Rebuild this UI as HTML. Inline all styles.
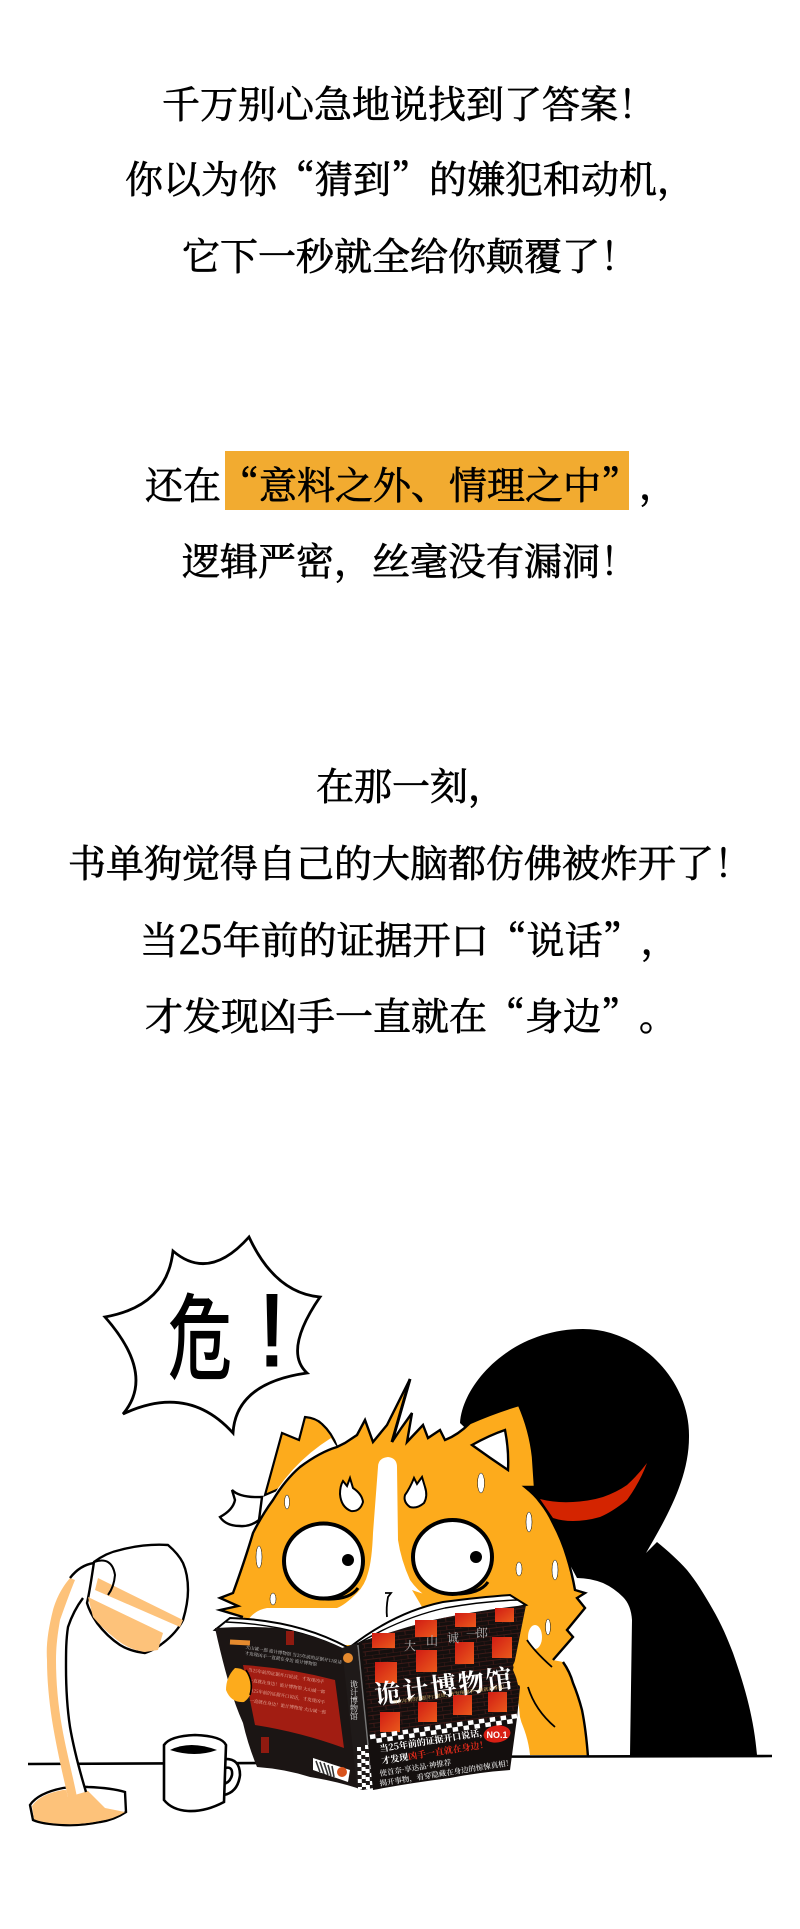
<!DOCTYPE html>
<html lang="zh-CN">
<head>
<meta charset="utf-8">
<title>诡计博物馆</title>
<style>
html,body{margin:0;padding:0;background:#fff;}
#page{position:relative;width:800px;height:1929px;overflow:hidden;background:#fff;font-family:"Noto Serif CJK SC","Liberation Serif",serif;color:#000;}
.l{position:absolute;font-size:38px;line-height:50px;height:50px;font-weight:400;white-space:nowrap;text-spacing-trim:space-all;-webkit-text-stroke:.7px #000;}
.d{font-size:40px;}
#hl{position:absolute;left:225px;top:451px;width:404px;height:59px;background:#f2ab30;}
svg{position:absolute;left:0;top:0;}
</style>
</head>
<body>
<div id="page">
<div id="hl"></div>
<div class="l" style="left:162px;top:77px">千万别心急地说找到了答案！</div>
<div class="l" style="left:125px;top:152px">你以为你“猜到”的嫌犯和动机，</div>
<div class="l" style="left:182px;top:229px">它下一秒就全给你颠覆了！</div>
<div class="l" style="left:145px;top:458px">还在“意料之外、情理之中”，</div>
<div class="l" style="left:182px;top:534px">逻辑严密，丝毫没有漏洞！</div>
<div class="l" style="left:316px;top:759px">在那一刻，</div>
<div class="l" style="left:68px;top:836px">书单狗觉得自己的大脑都仿佛被炸开了！</div>
<div class="l" style="left:140px;top:913px">当<span class="d">25</span>年前的证据开口“说话”，</div>
<div class="l" style="left:145px;top:989px">才发现凶手一直就在“身边”。</div>

<svg width="800" height="1929" viewBox="0 0 800 1929">
  <defs>
    <pattern id="bricks" width="14" height="8" patternUnits="userSpaceOnUse" patternTransform="rotate(-7)">
      <path d="M0 0H14M0 0V4M7 4V8M0 4H14" fill="none" stroke="#4a1d1a" stroke-width=".7"/>
    </pattern>
    <linearGradient id="win" x1="0" y1="0" x2="1" y2="1">
      <stop offset="0" stop-color="#d11c14"/><stop offset="1" stop-color="#ea5a1c"/>
    </linearGradient>
  </defs>
  <!-- speech bubble -->
  <path d="M249 1237 Q275 1293 320 1297 Q283 1351 307 1373 Q236 1383 233 1433 Q188 1383 123 1414 Q156 1375 105 1317 Q167 1306 173 1251 Q209 1282 249 1237 Z" fill="#fff" stroke="#000" stroke-width="2.8"/>
  <text transform="translate(200 1372) scale(.8 1.17)" text-anchor="middle" font-size="80" font-weight="500" font-family="'Noto Sans CJK SC',sans-serif">危</text>
  <text x="272" y="1366" text-anchor="middle" font-size="104" font-family="'Liberation Sans',sans-serif" stroke="#000" stroke-width="1">!</text>

  <!-- black figure -->
  <path d="M460 1423 C462 1385 510 1329 583 1329 C640 1329 690 1380 689 1437 C689 1480 665 1520 646 1553 L657 1542 C668 1551 678 1560 687 1570 C696 1581 704 1594 712 1608 C722 1625 728 1640 733 1653 C746 1690 754 1720 757 1755 L630 1755 L632 1620 Q631 1605 623 1597 Q614 1588 603 1583 Q590 1578 577 1578 L530 1490 Z" fill="#000"/>
  <path d="M647 1463 Q640 1482 627 1500 Q612 1512 600 1517 Q586 1521 573 1521 Q562 1521 553 1518 L540 1499 Q555 1503 573 1502 Q590 1501 603 1497 Q617 1492 627 1485 Q638 1475 647 1463 Z" fill="#d42400"/>

  <!-- cat -->
  <path d="M513 1650 L553 1660 L563 1662 Q570 1672 573 1683 Q578 1695 582 1710 Q586 1730 588 1755 L530 1755 L520 1717 Z" fill="#fdab1c"/>
  <path d="M563 1662 Q570 1672 573 1683 Q578 1695 582 1710 Q586 1730 588 1757" fill="none" stroke="#000" stroke-width="2.4"/>
  <path d="M518 1715 Q528 1735 530 1755 L508 1757 Z" fill="#fff"/>
  <path d="M265 1495 L282 1433 L299 1440 L305 1417 Q316 1418 322 1424 Q332 1433 337 1447 L300 1480 Z" fill="#fdab1c" stroke="#000" stroke-width="2.2"/>
  <path d="M265 1510 Q288 1465 331 1438 L337 1447 Q295 1470 270 1518 Z" fill="#fff"/>
  <path d="M232 1490 Q240 1498 262 1497 L259 1520 Q250 1527 240 1526 Q226 1526 220 1517 Q233 1510 235 1500 Z" fill="#fff" stroke="#000" stroke-width="2.4"/>
  <path d="M345 1443 L357 1435 L365 1420 L373 1442 L387 1425 L410 1379 L392 1442 L402 1427 L412 1413 L407 1442 L423 1425 L428 1438 L440 1430 L445 1440 Q458 1435 470 1423 Q495 1412 519 1405 Q530 1430 533 1457 L535 1487 L525 1487 Q535 1495 540 1502 Q548 1512 553 1523 Q562 1540 567 1557 Q572 1573 575 1590 L585 1593 L577 1598 L585 1608 L567 1630 L573 1637 L553 1660 L520 1690 L300 1690 L243 1617 L220 1610 L238 1606 L220 1598 L233 1593 Q245 1560 253 1533 Q262 1515 273 1500 Q285 1480 300 1467 Q320 1452 337 1447 Z" fill="#fdab1c"/>
  <path d="M243 1617 L220 1610 L238 1606 L220 1598 L233 1593 Q245 1560 253 1533 Q262 1515 273 1500 Q285 1480 300 1467 Q320 1452 337 1447 L345 1443 L357 1435 L365 1420 L373 1442 L387 1425 L410 1379 L392 1442 L402 1427 L412 1413 L407 1442 L423 1425 L428 1438 L440 1430 L445 1440 Q458 1435 470 1423 Q495 1412 519 1405 Q530 1430 533 1457 L535 1487 L525 1487 Q535 1495 540 1502 Q548 1512 553 1523 Q562 1540 567 1557 Q572 1573 575 1590 L585 1593 L577 1598 L585 1608 L567 1630 L573 1637 L553 1660" fill="none" stroke="#000" stroke-width="2.4"/>
  <path d="M392 1442 L410 1379" fill="none" stroke="#000" stroke-width="3"/>
  <path d="M472 1445 Q490 1435 505 1430 Q509 1450 508 1470 Q490 1458 472 1445 Z" fill="#fff" stroke="#000" stroke-width="2.4"/>
  <path d="M388 1457 Q378 1458 378 1467 L373 1533 Q372 1560 368 1573 Q365 1585 357 1593 Q345 1605 337 1608 L267 1608 Q255 1610 248 1620 L250 1645 L433 1645 L433 1602 L427 1597 Q417 1590 410 1580 Q401 1560 398 1540 L397 1467 Q397 1458 388 1457 Z" fill="#fff"/>
  <g fill="#fff" stroke="#000" stroke-width="2">
    <path d="M343 1481 L347 1486 L350 1478 L353 1488 Q362 1494 363 1502 Q360 1512 351 1511 Q341 1507 340 1494 Q340 1486 343 1481 Z"/>
    <path d="M414 1478 L417 1484 L422 1477 L425 1487 Q428 1496 424 1503 Q417 1509 410 1507 Q403 1502 405 1495 Q410 1488 414 1478 Z"/>
  </g>
  <g fill="#fff" stroke="#000" stroke-width=".5">
    <ellipse cx="287" cy="1502" rx="2.5" ry="7"/><ellipse cx="481" cy="1483" rx="3.5" ry="10"/>
    <ellipse cx="529" cy="1522" rx="3" ry="10"/><ellipse cx="259" cy="1557" rx="3" ry="11"/>
    <ellipse cx="519" cy="1569" rx="3" ry="7"/><ellipse cx="555" cy="1570" rx="3" ry="10"/>
    <ellipse cx="273" cy="1599" rx="3" ry="6"/><ellipse cx="548" cy="1627" rx="2.5" ry="8"/>
  </g>
  <g>
    <ellipse cx="323.5" cy="1561" rx="39.5" ry="37.5" fill="#fff" stroke="#000" stroke-width="4"/>
    <path d="M325 1599 Q350 1600 358 1588" fill="none" stroke="#000" stroke-width="3"/>
    <circle cx="348" cy="1560" r="6"/>
  </g>
  <g>
    <ellipse cx="452.5" cy="1557" rx="39.5" ry="37" fill="#fff" stroke="#000" stroke-width="4"/>
    <path d="M455 1594 Q480 1594 488 1582" fill="none" stroke="#000" stroke-width="3"/>
    <circle cx="476" cy="1557" r="6"/>
  </g>
  <path d="M385 1593 L391 1593 L388 1597 Q386 1608 387 1617" fill="none" stroke="#000" stroke-width="1.8"/>
  <path d="M412 1590 Q430 1597 452 1598 L445 1606 L425 1612 Z" fill="#fdab1c"/>
  <ellipse cx="535" cy="1637" rx="7" ry="12" fill="#fff"/>

  <!-- table -->
  <path d="M28 1764 L258 1763 M350 1757 L772 1756" fill="none" stroke="#000" stroke-width="2.6"/>

  <!-- lamp -->
  <g>
    <path d="M30 1805 Q38 1793 63 1788 Q75 1786 88 1787 Q112 1788 125 1792 L126 1812 Q114 1820 100 1822 Q80 1826 63 1825 Q42 1824 33 1820 Z" fill="#fff" stroke="#000" stroke-width="2.4"/>
    <path d="M32 1806 Q40 1794 63 1790 L88 1791 L105 1808 L125 1812 Q114 1819 100 1821 Q80 1825 63 1824 Q42 1823 34 1819 Z" fill="#fdc27a"/>
    <path d="M70 1578 C60 1590 56 1600 53 1610 C48 1630 46 1645 47 1660 C47 1680 49 1700 52 1720 C56 1745 62 1772 68 1797 L85 1792 C80 1772 74 1750 70 1727 C67 1707 66 1687 66 1667 C66 1652 66 1640 68 1627 C72 1615 77 1606 83 1598 L94 1583 L94 1563 Q80 1565 70 1578 Z" fill="#fff"/>
    <path d="M70 1578 C60 1590 56 1600 53 1610 C48 1630 46 1645 47 1660 C47 1680 49 1700 52 1720 C56 1745 62 1772 68 1797 L77 1797 C72 1772 66 1750 62 1727 C58 1705 56 1682 56 1660 C56 1645 58 1632 60 1620 C65 1606 70 1592 75 1580 Z" fill="#fdc27a"/>
    <path d="M83 1598 C77 1606 72 1615 68 1627 C66 1640 66 1652 66 1667 C66 1687 67 1707 70 1727 C74 1750 80 1772 86 1792 M70 1578 Q80 1565 94 1563 Q98 1572 94 1583" fill="none" stroke="#000" stroke-width="2.4"/>
    <path d="M94 1562 C102 1556 110 1552 120 1550 C135 1546 152 1544 168 1545 C175 1551 180 1557 183 1563 C187 1572 188 1581 188 1590 C188 1600 186 1610 183 1620 C178 1630 171 1637 163 1643 C157 1648 151 1651 145 1653 C136 1652 128 1650 120 1645 C111 1639 103 1631 97 1623 C93 1617 89 1610 87 1603 C90 1590 92 1575 94 1562 Z" fill="#fff" stroke="#000" stroke-width="2.4"/>
    <path d="M98 1578 L183 1620 L180 1627 L95 1590 Z" fill="#fdc27a"/>
    <path d="M88 1597 L163 1633 L158 1650 L145 1652 Q130 1650 117 1640 Q102 1628 93 1617 Z" fill="#fdc27a"/>
    <path d="M94 1562 Q112 1556 115 1575 Q114 1587 108 1595" fill="none" stroke="#000" stroke-width="2"/>
  </g>

  <!-- mug -->
  <g>
    <path d="M224 1759 Q240 1758 240 1775 Q238 1792 224 1795 M225 1768 Q233 1766 232 1775 Q230 1783 223 1784 Q222 1775 225 1768 Z" fill="#fff" stroke="#000" stroke-width="2.6"/>
    <path d="M164 1745 Q170 1736 195 1735 Q222 1736 226 1745 L224 1802 Q205 1812 188 1811 Q172 1810 164 1800 Z" fill="#fff" stroke="#000" stroke-width="2.6"/>
    <path d="M170 1750 Q190 1740 217 1750 Q195 1758 170 1750 Z" fill="#000"/>
  </g>

  <!-- book -->
  <g>
    <path d="M230 1618 Q297 1620 347 1647 L342 1650 L215 1630 Z" fill="#fff" stroke="#000" stroke-width="2"/>
    <path d="M226 1622 Q295 1625 345 1650" fill="none" stroke="#000" stroke-width="1.4"/>
    <path d="M350 1647 Q395 1612 443 1602 Q480 1597 510 1595 L526 1605 L357 1650 Z" fill="#fff" stroke="#000" stroke-width="2"/>
    <path d="M354 1646 Q400 1618 445 1608 Q485 1601 518 1600" fill="none" stroke="#000" stroke-width="1.4"/>
    <path d="M215 1628 Q250 1626 277 1628 Q315 1635 342 1648 L357 1648 L363 1790 L357 1788 Q335 1781 310 1777 Q285 1769 257 1767 Q248 1745 243 1723 Q235 1705 230 1687 Q222 1660 215 1628 Z" fill="#1b1514"/>
    <path d="M243 1665 Q290 1668 335 1680 L344 1748 Q300 1732 255 1725 Z" fill="#a21d12"/>
    <rect x="230" y="1640" width="20" height="5" fill="#e58a2e" transform="rotate(3 240 1642)"/>
    <rect x="286" y="1631" width="8" height="14" fill="#8f1a10"/>
    <rect x="261" y="1737" width="8" height="16" fill="#8f1a10"/>
    <g font-size="4.5" fill="#e9b6a8" transform="rotate(9 240 1670)">
      <text x="242" y="1648" fill="#ccc">大山诚一郎 诡计博物馆 当25年前的证据开口说话</text>
      <text x="242" y="1654" fill="#ccc">才发现凶手一直就在身边 诡计博物馆</text>
      <text x="248" y="1670">当25年前的证据开口说话，才发现凶手</text>
      <text x="250" y="1680">一直就在身边！诡计博物馆 大山诚一郎</text>
      <text x="252" y="1690">当25年前的证据开口说话，才发现凶手</text>
      <text x="254" y="1700">一直就在身边！诡计博物馆 大山诚一郎</text>
    </g>
    <path d="M313 1758 L350 1770 L348 1782 L313 1770 Z" fill="#fff"/>
    <path d="M316 1761 L320 1772 M320 1762 L324 1774 M324 1763 L328 1775 M328 1765 L331 1776 M332 1766 L334 1777" stroke="#333" stroke-width="1.6" fill="none"/>
    <circle cx="342" cy="1772" r="5" fill="#d8521c"/>
    <path d="M342 1648 L357 1643 L373 1788 L363 1790 L357 1788 Z" fill="#1f1a19"/>
    <circle cx="348" cy="1658" r="5" fill="#e58a2e"/>
    <text x="354" y="1680" font-size="8" fill="#eee" style="writing-mode:vertical-rl">诡计博物馆</text>
    <path d="M359 1747 L360 1789 M367 1745 L368 1790" fill="none" stroke="#fff" stroke-width="4" stroke-dasharray="4 4"/>
    <path d="M363 1747 L364 1789 M371 1745 L372 1788" fill="none" stroke="#fff" stroke-width="4" stroke-dasharray="4 4" stroke-dashoffset="4"/>
    <path d="M357 1643 Q395 1630 433 1620 Q480 1610 526 1605 L513 1670 L520 1687 L517 1718 L510 1770 Q480 1772 450 1778 Q410 1783 373 1790 Z" fill="#140f0e"/>
    <path d="M362 1643 Q395 1630 433 1620 Q480 1610 526 1605 L513 1670 L520 1687 L517 1716 L370 1737 Z" fill="url(#bricks)"/>
    <path d="M358 1645 L368 1745" fill="none" stroke="#777" stroke-width="1.4"/>
    <g fill="url(#win)">
      <rect x="372" y="1633" width="23" height="15"/><rect x="415" y="1620" width="22" height="17"/>
      <rect x="455" y="1613" width="21" height="14"/><rect x="495" y="1608" width="19" height="14"/>
      <rect x="375" y="1662" width="22" height="21"/><rect x="416" y="1650" width="21" height="22"/>
      <rect x="455" y="1642" width="19" height="22"/><rect x="492" y="1637" width="20" height="21"/>
      <rect x="380" y="1712" width="20" height="20"/><rect x="418" y="1702" width="19" height="20"/>
      <rect x="453" y="1695" width="19" height="20"/><rect x="488" y="1692" width="19" height="20"/>
    </g>
    <g font-size="12" fill="#b5b5b5">
      <text x="404" y="1650">大</text><text x="426" y="1645">山</text><text x="447" y="1642">诚</text><text x="466" y="1638">一</text><text x="476" y="1637">郎</text>
    </g>
    <text x="376" y="1704" font-size="26" font-weight="700" fill="#fff" letter-spacing="2" transform="rotate(-7 376 1704)">诡计博物馆</text>
    <text x="393" y="1704" font-size="4.8" fill="#e8c070" transform="rotate(-8 393 1704)">当25年前的证据开口说话，才发现凶手一直就在身边！</text>
    <path d="M370 1737 L517 1716" fill="none" stroke="#fff" stroke-width="4.5" stroke-dasharray="5.5 5.5"/>
    <path d="M371 1741.5 L517 1720.5" fill="none" stroke="#fff" stroke-width="4.5" stroke-dasharray="5.5 5.5" stroke-dashoffset="5.5"/>
    <g font-size="9" fill="#fff" font-weight="700">
      <text x="380" y="1752" transform="rotate(-9 380 1752)">当25年前的证据开口说话，</text>
      <text x="382" y="1764" transform="rotate(-9 382 1764)">才发现<tspan fill="#e02a1a">凶手一直就在身边！</tspan></text>
    </g>
    <g font-size="7.5" fill="#ddd" font-weight="600">
      <text x="380" y="1776" transform="rotate(-9 380 1776)">使首奈·享达品·神推荐</text>
      <text x="380" y="1786" transform="rotate(-9 380 1786)">揭开事物，看穿隐藏在身边的惊悚真相！</text>
    </g>
    <ellipse cx="497" cy="1734" rx="13.5" ry="8.5" fill="#d91f14" transform="rotate(-8 497 1734)"/>
    <text x="497" y="1738" text-anchor="middle" font-size="9" font-weight="700" fill="#fff" font-family="'Liberation Sans',sans-serif">NO.1</text>
  </g>
  <path d="M235 1668 Q247 1668 251 1680 Q254 1695 244 1702 Q231 1703 226 1690 Q226 1677 235 1668 Z" fill="#fdab1c"/>
  <path d="M246 1670 Q254 1682 250 1695" fill="none" stroke="#000" stroke-width="1.6"/>
  <path d="M527 1640 Q535 1652 553 1668 L528 1687 L518 1685 L513 1665 Q518 1655 527 1640 Z" fill="#fdab1c"/>
  <path d="M527 1640 Q535 1652 552 1667 M528 1687 Q535 1710 555 1727" fill="none" stroke="#000" stroke-width="1.8"/>
</svg>
</div>
</body>
</html>
